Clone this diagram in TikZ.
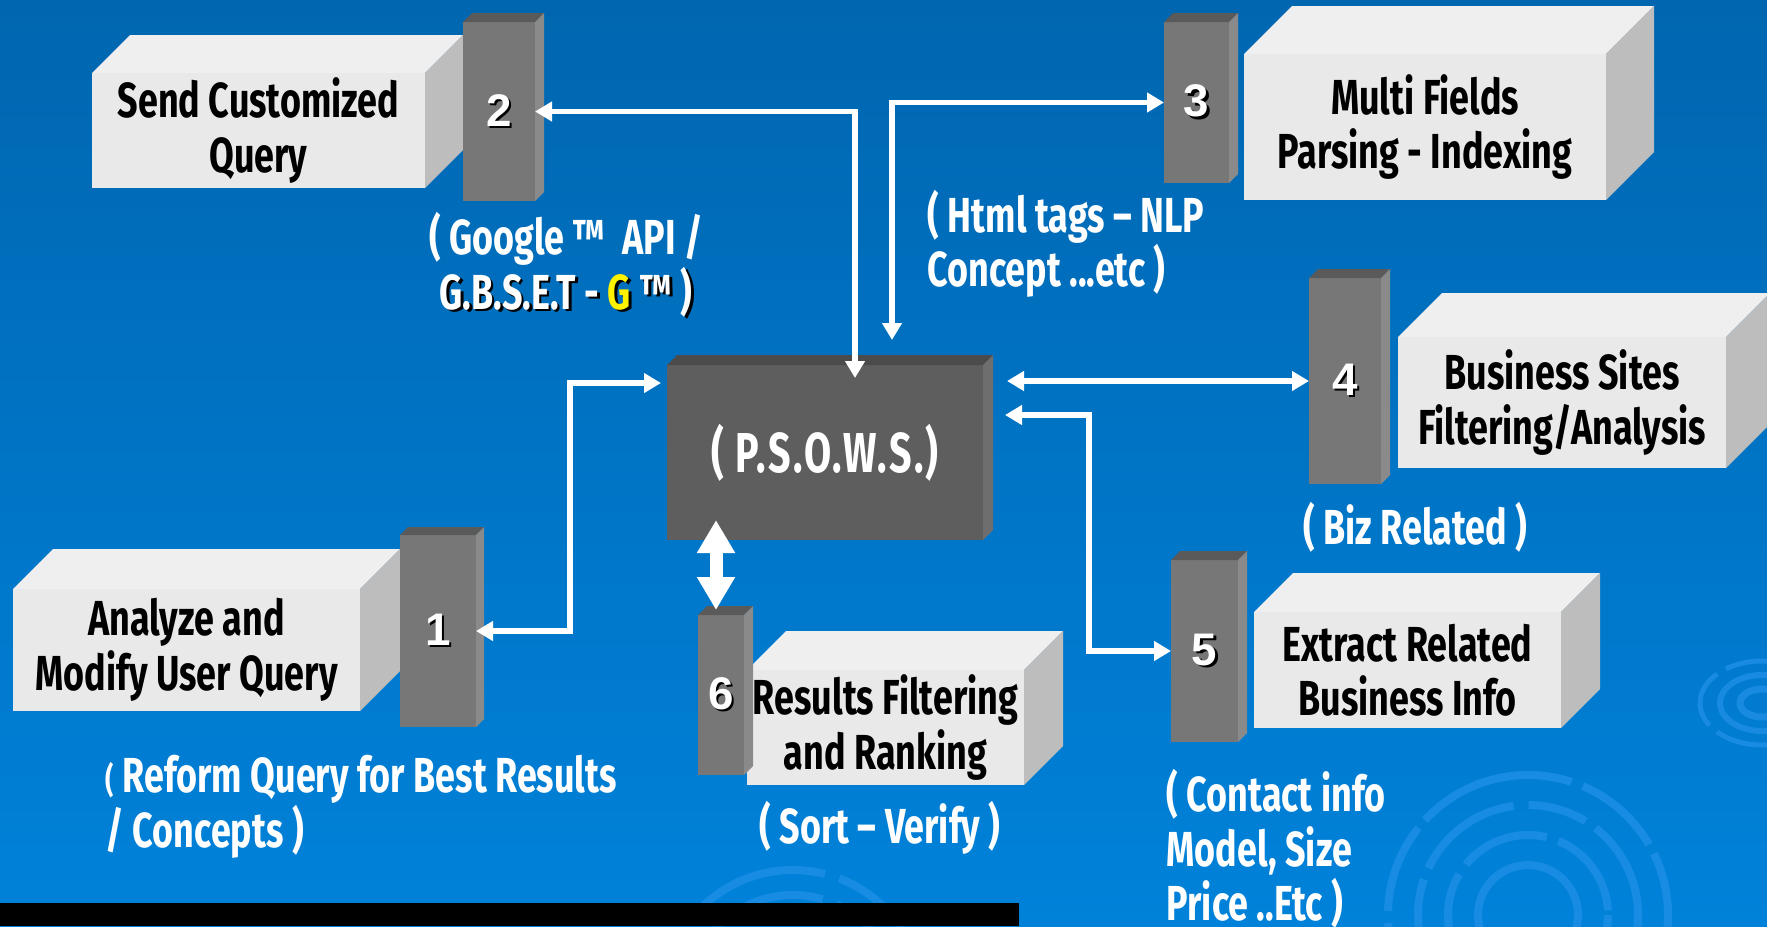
\documentclass[tikz,border=0pt]{standalone}
\usepackage{fontspec}
\setmainfont{Fira Sans}[FakeStretch=0.73]
\newfontfamily\numfont{Liberation Sans}
\newfontfamily\psfont{Fira Sans}[FakeStretch=0.70,LetterSpace=4]
\usetikzlibrary{arrows.meta,calc}
\definecolor{bgtop}{HTML}{0066B0}
\definecolor{bgbot}{HTML}{0082DA}
\definecolor{lfront}{HTML}{E9E9E9}
\definecolor{ltop}{HTML}{EFEFEF}
\definecolor{lside}{HTML}{BDBDBD}
\definecolor{dfront}{HTML}{777777}
\definecolor{dtop}{HTML}{5A5A5A}
\definecolor{dside}{HTML}{8A8A8A}
\definecolor{pfront}{HTML}{5E5E5E}
\definecolor{ptop}{HTML}{4B4B4B}
\definecolor{pside}{HTML}{6E6E6E}
\definecolor{swirl}{HTML}{1E8FE6}
\newcommand\shd[1]{\rlap{\color{black}\kern0.7pt\raisebox{-0.7pt}{#1}}#1}
\newcommand\depthfaces[4]{%
  \fill[#3] (#1.north west) -- ++(#2,-#2) -- ($(#1.north east)+(#2,-#2)$) -- (#1.north east) -- cycle;
  \fill[#4] (#1.north east) -- ++(#2,-#2) -- ($(#1.south east)+(#2,-#2)$) -- (#1.south east) -- cycle;}
\tikzset{
  lightbox/.style={fill=lfront, text=black, align=center, inner sep=0pt, outer sep=0pt,
    font=\bfseries\fontsize{14}{15.5}\selectfont},
  barbox/.style={fill=dfront, text=white, inner sep=0pt, outer sep=0pt,
    font=\numfont\bfseries\fontsize{13}{13}\selectfont},
  psbox/.style={fill=pfront, text=white, inner sep=0pt, outer sep=0pt,
    font=\psfont\bfseries\fontsize{16}{17}\selectfont},
  lab/.style={text=white, align=center, inner sep=0pt, font=\bfseries\fontsize{14}{15.5}\selectfont},
  conn/.style={draw=white, line width=0.055cm,
    {Triangle[length=0.17cm,width=0.19cm]}-{Triangle[length=0.17cm,width=0.19cm]}},
  bigarrow/.style={draw=white, line width=0.13cm,
    {Triangle[length=0.33cm,width=0.36cm]}-{Triangle[length=0.33cm,width=0.36cm]}},
  ring/.style={draw=swirl, opacity=0.8, line width=0.08cm},
}
\begin{document}
\begin{tikzpicture}[x=1cm,y=-1cm]
\useasboundingbox (0,0) rectangle (17.67,9.26);
\shade[top color=bgtop, bottom color=bgbot] (0,0) rectangle (17.67,9.26);
% background swirls
\begin{scope}
\clip (0,0) rectangle (17.67,9.26);
\draw[ring, dash pattern=on 1.6cm off 0.12cm on 0.9cm off 0.1cm] (15.28,9.15) circle (1.40);
\draw[ring, dash pattern=on 1.1cm off 0.15cm on 0.6cm off 0.12cm] (15.28,9.15) circle (1.10);
\draw[ring, dash pattern=on 0.9cm off 0.12cm] (15.28,9.15) circle (0.80);
\draw[ring] (15.28,9.15) circle (0.50);
\draw[ring, dash pattern=on 1.5cm off 0.15cm] (7.93,10.0) circle (1.30);
\draw[ring, dash pattern=on 1.2cm off 0.15cm] (7.93,10.0) circle (1.05);
\draw[ring, line width=0.05cm, dash pattern=on 0.6cm off 0.1cm] (17.62,7.03) ellipse (0.62 and 0.42);
\draw[ring, line width=0.06cm] (17.62,7.03) ellipse (0.42 and 0.28);
\draw[ring, line width=0.07cm] (17.62,7.03) ellipse (0.22 and 0.14);
\end{scope}
\fill[black] (0,9.03) rectangle (10.19,9.26);

% light boxes
\node[lightbox, minimum width=3.47cm, minimum height=1.22cm] (b1) at (1.865,6.50) {Analyze and\\Modify User Query};
\depthfaces{b1}{0.40}{ltop}{lside}
\node[lightbox, minimum width=3.33cm, minimum height=1.15cm] (b2) at (2.585,1.305) {Send Customized\\Query};
\depthfaces{b2}{0.38}{ltop}{lside}
\node[lightbox, minimum width=3.62cm, minimum height=1.46cm] (b3) at (14.25,1.27) {Multi Fields\\Parsing - Indexing};
\depthfaces{b3}{0.48}{ltop}{lside}
\node[lightbox, minimum width=3.28cm, minimum height=1.31cm] (b4) at (15.62,4.025) {Business Sites\\Filtering/Analysis};
\depthfaces{b4}{0.44}{ltop}{lside}
\node[lightbox, minimum width=3.07cm, minimum height=1.16cm] (b5) at (14.075,6.70) {Extract Related\\Business Info};
\depthfaces{b5}{0.39}{ltop}{lside}
\node[lightbox, minimum width=2.77cm, minimum height=1.15cm] (b6) at (8.855,7.275) {Results Filtering\\and Ranking};
\depthfaces{b6}{0.39}{ltop}{lside}

% number bars
\node[barbox, minimum width=0.76cm, minimum height=1.92cm] (n1) at (4.38,6.31) {\shd{1}};
\depthfaces{n1}{0.08}{dtop}{dside}
\node[barbox, minimum width=0.72cm, minimum height=1.79cm] (n2) at (4.99,1.115) {\shd{2}};
\depthfaces{n2}{0.09}{dtop}{dside}
\node[barbox, minimum width=0.65cm, minimum height=1.61cm] (n3) at (11.965,1.025) {\shd{3}};
\depthfaces{n3}{0.09}{dtop}{dside}
\node[barbox, minimum width=0.72cm, minimum height=2.06cm] (n4) at (13.45,3.81) {\shd{4}};
\depthfaces{n4}{0.09}{dtop}{dside}
\node[barbox, minimum width=0.67cm, minimum height=1.82cm] (n5) at (12.045,6.51) {\shd{5}};
\depthfaces{n5}{0.09}{dtop}{dside}
\node[barbox, minimum width=0.46cm, minimum height=1.60cm] (n6) at (7.21,6.95) {\shd{6}};
\depthfaces{n6}{0.09}{dtop}{dside}

% central box
\node[psbox, minimum width=3.16cm, minimum height=1.75cm] (ps) at (8.25,4.525) {( P.S.O.W.S.)};
\depthfaces{ps}{0.10}{ptop}{pside}

% labels
\node[lab] (l2) at (5.66,2.66) {( Google ™~~API /\\\shd{G.B.S.E.T - }{\color{yellow}\shd{G}}\shd{ ™ )}};
\node[lab, anchor=west, align=left] (l3) at (9.27,2.44) {( Html tags – NLP\\Concept ...etc )};
\node[lab] (l4) at (14.15,5.27) {( Biz Related )};
\node[lab, anchor=west, align=left] (l1) at (1.05,8.07) {{\fontsize{10}{10}\selectfont(} Reform Query for Best Results\\/ Concepts )};
\node[lab] (l6) at (8.80,8.28) {( Sort – Verify )};
\node[lab, anchor=west, align=left] (l5) at (11.66,8.49) {( Contact info\\Model, Size\\Price ..Etc )};

% connectors
\coordinate (pa) at ($(ps.north)+(0.30,0.13)$);
\coordinate (pc) at ($(ps.north)+(0.67,-0.25)$);
\draw[conn, shorten >=0.06cm] (n1.east) -| (5.70,3.83) -- (ps.west |- 0,3.83);
\draw[conn] (n2.east) -| (pa);
\draw[conn] (pc) |- (n3.west);
\draw[conn, shorten <=0.24cm] (ps.east |- n4.west) -- (n4.west);
\draw[conn, shorten >=0.22cm] (n5.west) -| (10.89,4.15) -- (ps.east |- 0,4.15);
\draw[bigarrow] ($(ps.south -| n6.north)+(-0.05,-0.20)$) -- ($(n6.north)+(-0.05,-0.05)$);
\end{tikzpicture}
\end{document}
